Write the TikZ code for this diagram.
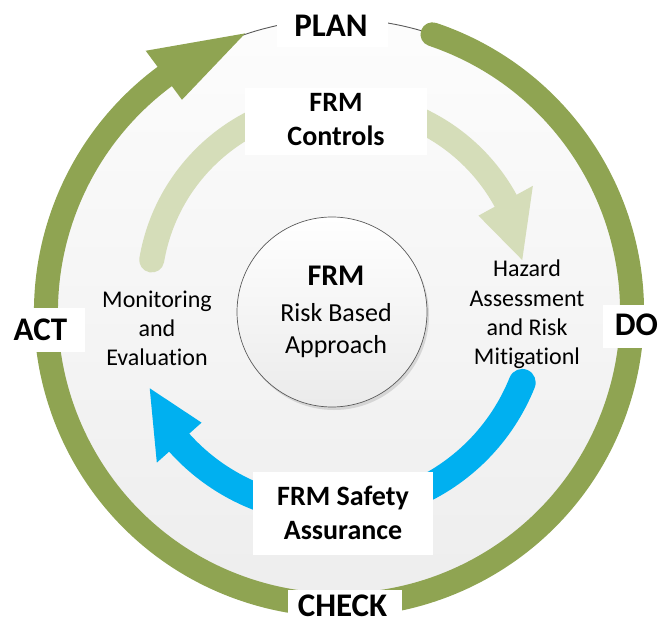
\documentclass[tikz,border=0pt]{standalone}
\usepackage{fontspec}
\setmainfont{Carlito}[Ligatures=NoCommon]
\usetikzlibrary{shadows}
\definecolor{ringgreen}{RGB}{143,164,82}
\definecolor{palegreen}{RGB}{213,221,185}
\definecolor{arrowblue}{RGB}{0,176,240}
\definecolor{edgegray}{RGB}{90,90,90}
\begin{document}
\begin{tikzpicture}[x=1pt,y=1pt,
  bigtxt/.style={inner sep=0pt, font=\fontsize{33}{38}\selectfont\bfseries},
  boldtxt/.style={inner sep=0pt, align=center, font=\fontsize{28}{34}\selectfont\bfseries},
  sidetxt/.style={inner sep=0pt, align=center, font=\fontsize{24}{29.3}\selectfont},
  whitebox/.style={fill=white, draw=none}]
\useasboundingbox (0,0) rectangle (660,624);
\begin{scope}
\clip (0,0) rectangle (660,624);
\coordinate (C) at (339,312);
\coordinate (LG) at (339,332);
\coordinate (B) at (332,318);
% background disk
\shade[top color=white!99!black, bottom color=white!93!black] (C) circle (293);
\draw[edgegray, line width=0.9] (C) circle (293);
% pale green arrow
\draw[palegreen, line width=25, line cap=round] ([shift={(LG)}]170.3:190) arc[start angle=170.3, end angle=28.7, radius=190];
\fill[palegreen] ([shift={(LG)}]9.9:186) -- ([shift={(LG)}]28.7:221) -- ([shift={(LG)}]28.7:159) -- cycle;
% blue arrow
\draw[arrowblue, line width=27, line cap=round] ([shift={(B)}]-21.9:205) arc[start angle=-21.9, end angle=-138.2, radius=205];
\fill[arrowblue] ([shift={(B)}]-155.7:200) -- ([shift={(B)}]-138.2:235) -- ([shift={(B)}]-138.2:175) -- cycle;
% inner circle
\node[circle, draw=edgegray, line width=0.7, minimum size=190, inner sep=0pt,
      top color=white, bottom color=white!92!black,
      drop shadow={shadow xshift=2, shadow yshift=-3, opacity=0.25}] (core) at (332,312) {};
\node[inner sep=0pt, align=center, font=\fontsize{26}{32}\selectfont] (coretxt) at (336,312.5)
  {{\fontsize{30}{34}\selectfont\bfseries FRM}\\[4pt] Risk Based\\ Approach};
% outer green ring
\draw[ringgreen, line width=24, line cap=round] ([shift={(C)}]71.4:293) arc[start angle=71.4, end angle=-233.5, radius=293];
\fill[ringgreen] ([shift={(C)}]108.6:294) -- ([shift={(C)}]126.5:325) -- ([shift={(C)}]126.5:264) -- cycle;
% white label boxes
\fill[whitebox] (277,577) rectangle (388,624);
\fill[whitebox] (0,272) rectangle (85,316);
\fill[whitebox] (603,276) rectangle (660,319);
\fill[whitebox] (288,0) rectangle (402,34);
\fill[whitebox] (245,469) rectangle (427,536);
\fill[whitebox] (253,69) rectangle (433,152);
% labels
\node[bigtxt] (plan) at (331,598) {PLAN};
\node[bigtxt] (act) at (40.5,294) {ACT};
\node[bigtxt] (do) at (636.5,299) {DO};
\node[bigtxt] (check) at (342.5,18) {CHECK};
\node[boldtxt] (controls) at (336,504) {FRM\\Controls};
\node[boldtxt] (safety) at (343,111.5) {FRM Safety\\Assurance};
\node[sidetxt] (monitor) at (157,295.5) {Monitoring\\and\\Evaluation};
\node[sidetxt] (hazard) at (527,309.5) {Hazard\\Assessment\\and Risk\\Mitigationl};
\end{scope}
\end{tikzpicture}
\end{document}
